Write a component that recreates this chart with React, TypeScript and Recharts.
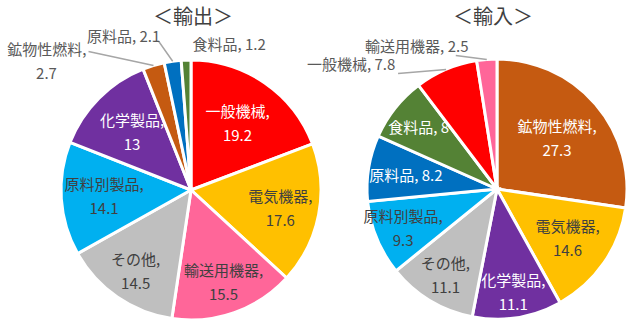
import React from "react";
import { PieChart, Pie, Cell } from "recharts";

const exportNames = ["一般機械", "電気機器", "輸送用機器", "その他", "原料別製品", "化学製品", "鉱物性燃料", "原料品", "食料品"];
const exportValues = [19.2, 17.6, 15.5, 14.5, 14.1, 13, 2.7, 2.1, 1.2];

const importNames = ["鉱物性燃料", "電気機器", "化学製品", "その他", "原料別製品", "原料品", "食料品", "一般機械", "輸送用機器"];
const importValues = [27.3, 14.6, 11.1, 11.1, 9.3, 8.2, 8, 7.8, 2.5];

const titles = ["＜輸出＞", "＜輸入＞"];

const colorByName: Record<string, string> = {
  一般機械: "#FF0000",
  電気機器: "#FFC000",
  輸送用機器: "#FF6699",
  その他: "#BFBFBF",
  原料別製品: "#00B0F0",
  化学製品: "#7030A0",
  鉱物性燃料: "#C55A11",
  原料品: "#0070C0",
  食料品: "#548235",
};

const exportData = exportNames.map((name, i) => ({ name, value: exportValues[i] }));
const importData = importNames.map((name, i) => ({ name, value: importValues[i] }));

const FONT = '"Noto Sans CJK JP", "Noto Sans", sans-serif';
const DARK = "#404040";
const WHITE = "#FFFFFF";
const OUT = "#595959";
const LEADER = "#A6A6A6";

type Layout =
  | { type: "in"; r: number; lines: 1 | 2; color: string }
  | { type: "out"; lines: 1 | 2; tx: number; ty: number; leader?: [number, number][] };

const exportLayout: Layout[] = [
  { type: "in", r: 0.63, lines: 2, color: WHITE },
  { type: "in", r: 0.7, lines: 2, color: DARK },
  { type: "in", r: 0.75, lines: 2, color: DARK },
  { type: "in", r: 0.75, lines: 2, color: DARK },
  { type: "in", r: 0.67, lines: 2, color: DARK },
  { type: "in", r: 0.64, lines: 2, color: WHITE },
  { type: "out", lines: 2, tx: -107, ty: -5, leader: [[-65, -14]] },
  { type: "out", lines: 1, tx: -49, ty: -26, leader: [[-14, -20], [-20, -20]] },
  { type: "out", lines: 1, tx: 43, ty: -17 },
];

const importLayout: Layout[] = [
  { type: "in", r: 0.61, lines: 2, color: WHITE },
  { type: "in", r: 0.66, lines: 2, color: DARK },
  { type: "in", r: 0.8, lines: 2, color: WHITE },
  { type: "in", r: 0.77, lines: 2, color: DARK },
  { type: "in", r: 0.78, lines: 2, color: DARK },
  { type: "in", r: 0.71, lines: 1, color: WHITE },
  { type: "in", r: 0.77, lines: 1, color: WHITE },
  { type: "out", lines: 1, tx: -95, ty: -6, leader: [[-48, 4]] },
  { type: "out", lines: 1, tx: -70, ty: -14, leader: [[-31, -4]] },
];

const RAD = Math.PI / 180;

function makeLabel(layout: Layout[]) {
  return (props: any) => {
    const { cx, cy, midAngle, outerRadius, index, name, value } = props;
    const L = layout[index];
    const c = Math.cos(-midAngle * RAD);
    const s = Math.sin(-midAngle * RAD);
    if (L.type === "in") {
      const r = outerRadius * L.r;
      const x = cx + r * c;
      const y = cy + r * s;
      if (L.lines === 1) {
        return (
          <text x={x} y={y} fill={L.color} fontSize={15} fontFamily={FONT} textAnchor="middle" dominantBaseline="central">
            {`${name}, ${value}`}
          </text>
        );
      }
      return (
        <g>
          <text x={x} y={y - 12} fill={L.color} fontSize={15} fontFamily={FONT} textAnchor="middle" dominantBaseline="central">
            {`${name},`}
          </text>
          <text x={x} y={y + 12} fill={L.color} fontSize={15} fontFamily={FONT} textAnchor="middle" dominantBaseline="central">
            {`${value}`}
          </text>
        </g>
      );
    }
    const ex = cx + outerRadius * c;
    const ey = cy + outerRadius * s;
    const tx = ex + L.tx;
    const ty = ey + L.ty;
    const pts = L.leader ? [[0, 0], ...L.leader].map(([dx, dy]) => `${ex + dx},${ey + dy}`).join(" ") : null;
    return (
      <g>
        {pts && <polyline points={pts} fill="none" stroke={LEADER} strokeWidth={1.5} />}
        {L.lines === 1 ? (
          <text x={tx} y={ty} fill={OUT} fontSize={15} fontFamily={FONT} textAnchor="middle" dominantBaseline="central">
            {`${name}, ${value}`}
          </text>
        ) : (
          <g>
            <text x={tx + 40} y={ty - 12} fill={OUT} fontSize={15} fontFamily={FONT} textAnchor="end" dominantBaseline="central">
              {`${name},`}
            </text>
            <text x={tx} y={ty + 12} fill={OUT} fontSize={15} fontFamily={FONT} textAnchor="middle" dominantBaseline="central">
              {`${value}`}
            </text>
          </g>
        )}
      </g>
    );
  };
}

export default function App() {
  return (
    <div style={{ position: "absolute", left: 0, top: 0, width: 640, height: 329, background: "#fff", overflow: "hidden" }}>
      <PieChart width={640} height={329} margin={{ top: 0, right: 0, bottom: 0, left: 0 }}>
        <Pie
          data={exportData}
          dataKey="value"
          nameKey="name"
          cx={191}
          cy={190}
          outerRadius={130}
          startAngle={90}
          endAngle={-270}
          stroke="#fff"
          strokeWidth={3}
          isAnimationActive={false}
          label={makeLabel(exportLayout)}
          labelLine={false}
        >
          {exportData.map((d) => (
            <Cell key={d.name} fill={colorByName[d.name]} />
          ))}
        </Pie>
        <Pie
          data={importData}
          dataKey="value"
          nameKey="name"
          cx={497}
          cy={189}
          outerRadius={130}
          startAngle={90}
          endAngle={-270}
          stroke="#fff"
          strokeWidth={3}
          isAnimationActive={false}
          label={makeLabel(importLayout)}
          labelLine={false}
        >
          {importData.map((d) => (
            <Cell key={d.name} fill={colorByName[d.name]} />
          ))}
        </Pie>
      </PieChart>
      <div style={{ position: "absolute", left: 193, top: 3, transform: "translateX(-50%)", fontFamily: FONT, fontSize: 20, lineHeight: "26px", color: DARK, whiteSpace: "nowrap" }}>
        {titles[0]}
      </div>
      <div style={{ position: "absolute", left: 493, top: 3, transform: "translateX(-50%)", fontFamily: FONT, fontSize: 20, lineHeight: "26px", color: DARK, whiteSpace: "nowrap" }}>
        {titles[1]}
      </div>
    </div>
  );
}
